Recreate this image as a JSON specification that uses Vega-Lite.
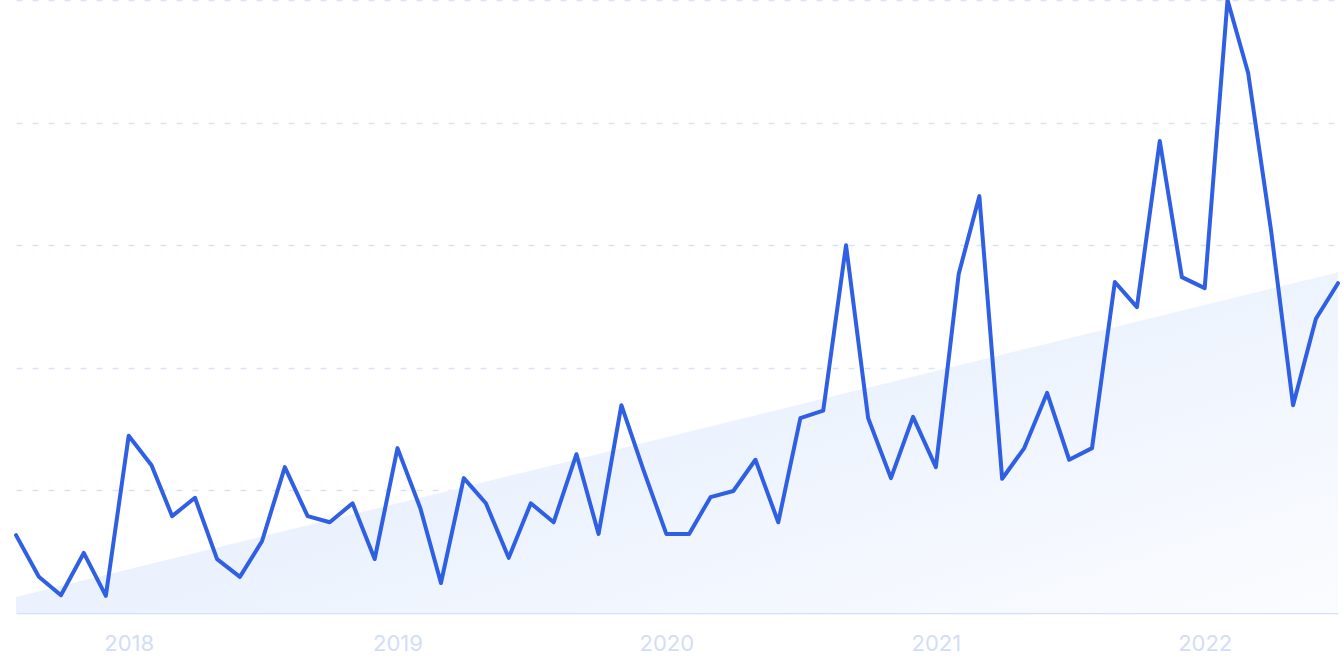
{
  "$schema": "https://vega.github.io/schema/vega-lite/v6.json",
  "width": 1322,
  "height": 613,
  "autosize": {"type": "none"},
  "padding": {"left": 16, "right": 5, "top": 0, "bottom": 58},
  "background": "#ffffff",
  "config": {"view": {"stroke": null}},
  "datasets": {
    "trend": [
      {"date": "2017-08-01", "value": 2.6},
      {"date": "2022-07-01", "value": 55.6}
    ],
    "series": [
      {"date": "2017-08-01", "value": 12.7},
      {"date": "2017-09-01", "value": 5.9},
      {"date": "2017-10-01", "value": 2.9},
      {"date": "2017-11-01", "value": 9.8},
      {"date": "2017-12-01", "value": 2.8},
      {"date": "2018-01-01", "value": 28.9},
      {"date": "2018-02-01", "value": 24.1},
      {"date": "2018-03-01", "value": 15.8},
      {"date": "2018-04-01", "value": 18.8},
      {"date": "2018-05-01", "value": 8.8},
      {"date": "2018-06-01", "value": 5.9},
      {"date": "2018-07-01", "value": 11.7},
      {"date": "2018-08-01", "value": 23.8},
      {"date": "2018-09-01", "value": 15.8},
      {"date": "2018-10-01", "value": 14.8},
      {"date": "2018-11-01", "value": 17.9},
      {"date": "2018-12-01", "value": 8.8},
      {"date": "2019-01-01", "value": 26.9},
      {"date": "2019-02-01", "value": 17.1},
      {"date": "2019-03-01", "value": 4.9},
      {"date": "2019-04-01", "value": 22.0},
      {"date": "2019-05-01", "value": 17.9},
      {"date": "2019-06-01", "value": 9.0},
      {"date": "2019-07-01", "value": 17.9},
      {"date": "2019-08-01", "value": 14.8},
      {"date": "2019-09-01", "value": 25.9},
      {"date": "2019-10-01", "value": 12.9},
      {"date": "2019-11-01", "value": 33.9},
      {"date": "2019-12-01", "value": 23.3},
      {"date": "2020-01-01", "value": 12.9},
      {"date": "2020-02-01", "value": 12.9},
      {"date": "2020-03-01", "value": 18.9},
      {"date": "2020-04-01", "value": 19.9},
      {"date": "2020-05-01", "value": 25.0},
      {"date": "2020-06-01", "value": 14.8},
      {"date": "2020-07-01", "value": 31.8},
      {"date": "2020-08-01", "value": 33.0},
      {"date": "2020-09-01", "value": 60.0},
      {"date": "2020-10-01", "value": 31.8},
      {"date": "2020-11-01", "value": 22.0},
      {"date": "2020-12-01", "value": 32.0},
      {"date": "2021-01-01", "value": 23.8},
      {"date": "2021-02-01", "value": 55.3},
      {"date": "2021-03-01", "value": 68.0},
      {"date": "2021-04-01", "value": 21.9},
      {"date": "2021-05-01", "value": 26.9},
      {"date": "2021-06-01", "value": 35.9},
      {"date": "2021-07-01", "value": 25.0},
      {"date": "2021-08-01", "value": 26.9},
      {"date": "2021-09-01", "value": 54.0},
      {"date": "2021-10-01", "value": 49.9},
      {"date": "2021-11-01", "value": 77.0},
      {"date": "2021-12-01", "value": 54.8},
      {"date": "2022-01-01", "value": 53.0},
      {"date": "2022-02-01", "value": 100},
      {"date": "2022-03-01", "value": 88.1},
      {"date": "2022-04-01", "value": 62.5},
      {"date": "2022-05-01", "value": 33.9},
      {"date": "2022-06-01", "value": 48.0},
      {"date": "2022-07-01", "value": 53.8}
    ]
  },
  "encoding": {
    "x": {
      "field": "date",
      "type": "temporal",
      "scale": {"type": "utc", "nice": false},
      "axis": {
        "title": null,
        "format": "%Y",
        "formatType": "utc",
        "tickCount": {"interval": "year", "step": 1},
        "grid": false,
        "ticks": false,
        "domain": true,
        "domainColor": "#d3e1f8",
        "domainWidth": 1.5,
        "labelFont": "Inter",
        "labelFontSize": 22,
        "labelColor": "#d3ddf6",
        "labelPadding": 20,
        "labelFlush": false
      }
    },
    "y": {
      "field": "value",
      "type": "quantitative",
      "scale": {"domain": [0, 100], "nice": false},
      "axis": {
        "title": null,
        "labels": false,
        "ticks": false,
        "domain": false,
        "values": [20, 40, 60, 80, 100],
        "grid": true,
        "gridDash": [6, 10],
        "gridColor": "#dae3fb",
        "gridWidth": 1.3
      }
    }
  },
  "layer": [
    {
      "data": {"name": "trend"},
      "mark": {
        "type": "area",
        "fill": {
          "gradient": "linear",
          "x1": 0, "y1": 0.2, "x2": 1, "y2": 1,
          "stops": [
            {"offset": 0, "color": "#e0ebfc"},
            {"offset": 1, "color": "#fbfcff"}
          ]
        }
      }
    },
    {
      "data": {"name": "series"},
      "mark": {"type": "line", "color": "#2f5fe3", "strokeWidth": 4, "strokeJoin": "round", "strokeCap": "round"}
    }
  ]
}
